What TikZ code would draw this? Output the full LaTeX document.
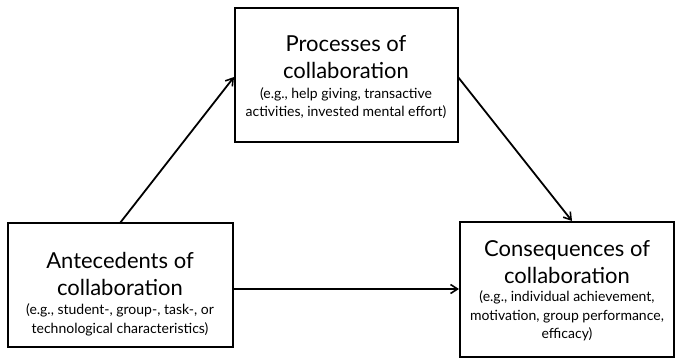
\documentclass[tikz,border=0pt]{standalone}
\usepackage{fontspec}
\setmainfont{Lato}
\usetikzlibrary{arrows.meta}
\newcommand{\ttlfont}{\fontsize{22}{27.5}\selectfont}
\newcommand{\smlfont}{\fontsize{14}{18.5}\selectfont}
\tikzset{
  boxnode/.style={draw=black, line width=2pt, inner sep=0pt, align=center},
  ttl/.style={align=center, inner sep=0pt, font=\ttlfont},
  sml/.style={align=center, inner sep=0pt, font=\smlfont},
  conn/.style={line width=1.8pt, -{Straight Barb[length=7pt,width=9pt,line width=1.6pt]}}
}
\begin{document}
\begin{tikzpicture}[x=1pt,y=-1pt]
\useasboundingbox (0,0) rectangle (676,359);
% boxes
\node[boxnode, minimum width=223pt, minimum height=134pt] (proc) at (346,75) {};
\node[boxnode, minimum width=225pt, minimum height=124pt] (ante) at (120,285) {};
\node[boxnode, minimum width=214pt, minimum height=135pt] (cons) at (567,289.5) {};
% texts
\node[ttl] (proct) at (346,57) {Processes of\\collaboration};
\node[sml] (procs) at (346,103) {(e.g., help giving, transactive\\activities, invested mental effort)};
\node[ttl] (antet) at (120,274) {Antecedents of\\collaboration};
\node[sml] (antes) at (120,320) {(e.g., student-, group-, task-, or\\technological characteristics)};
\node[ttl] (const) at (567,262) {Consequences of\\collaboration};
\node[sml] (conss) at (567,316) {(e.g., individual achievement,\\motivation, group performance,\\efficacy)};
% connectors
\draw[conn] (120,223) coordinate (s1) -- (234,77) coordinate (e1);
\draw[conn] (458,77) coordinate (s2) -- (572,221) coordinate (e2);
\draw[conn] (ante.east |- 0,289) coordinate (s3) -- (cons.west |- 0,289) coordinate (e3);
\end{tikzpicture}
\end{document}
